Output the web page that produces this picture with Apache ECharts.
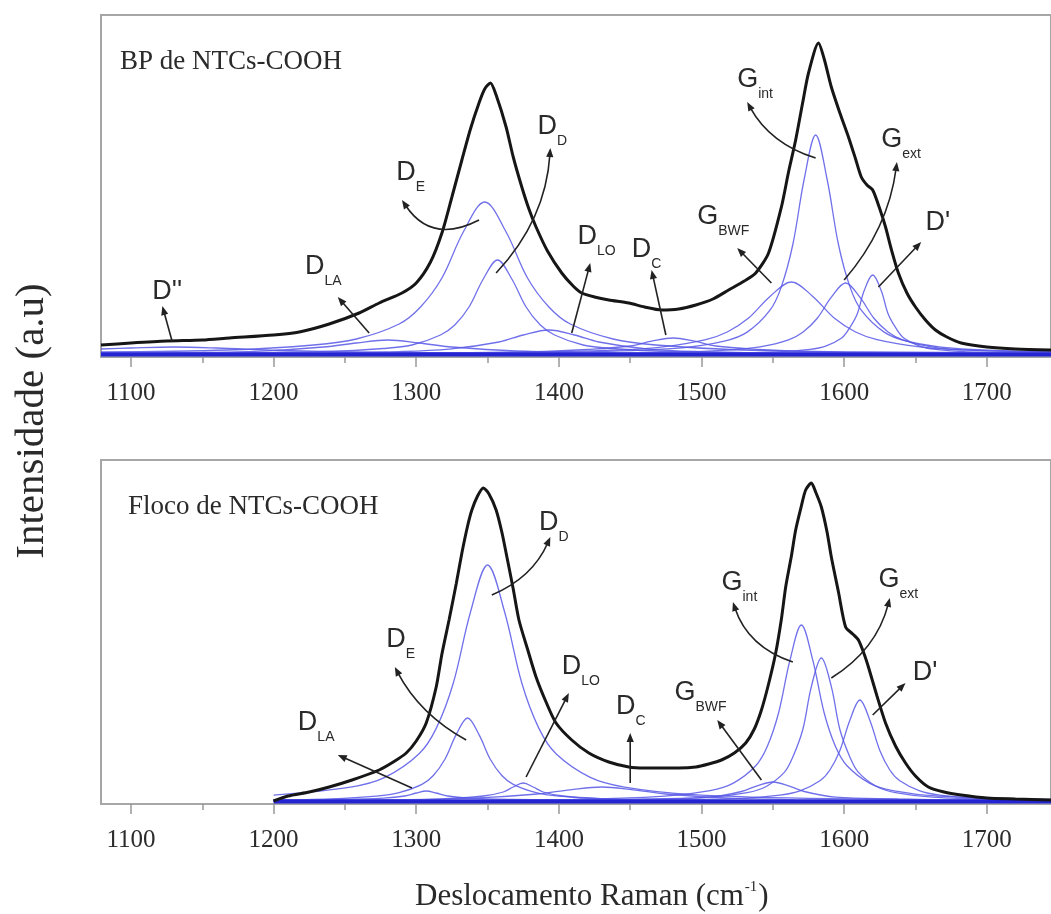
<!DOCTYPE html>
<html>
<head>
<meta charset="utf-8">
<script src="https://cdn.jsdelivr.net/npm/echarts@6.0.0/dist/echarts.min.js"></script>
<style>
  html, body { margin: 0; padding: 0; background: #fff; }
  #chart { width: 1051px; height: 914px; }
</style>
</head>
<body>
<div id="chart"></div>
<script>
// eixo x (cm-1)
const majorTicks = [1100, 1200, 1300, 1400, 1500, 1600, 1700];
const minorTicks = [1150, 1250, 1350, 1450, 1550, 1650];

// ---- painel superior: BP de NTCs-COOH (intensidade em u.a.) ----
const bpMeasured = [[1079,12],[1100,14],[1125,16],[1150,17],[1169,19],[1200,22],[1218,25],[1239,33],[1260,44],[1274,54],[1290,64],[1300,74],[1310,95],[1318,124],[1325,160],[1332,197],[1338,228],[1344,254],[1348,268],[1352,274],[1356,262],[1363,230],[1368,200],[1374,170],[1379,148],[1384,130],[1392,106],[1402,84],[1410,71],[1416,64],[1425,60],[1435,57],[1449,54],[1460,50],[1472,47],[1484,48],[1496,52],[1508,58],[1519,67],[1530,76],[1538,84],[1547,104],[1556,150],[1561,185],[1566,217],[1571,255],[1575,284],[1582,314],[1586,298],[1591,270],[1597,244],[1603,220],[1608,198],[1612,180],[1616,172],[1620,167],[1625,148],[1629,130],[1633,108],[1638,84],[1644,64],[1650,50],[1657,37],[1664,27],[1672,20],[1682,14],[1700,10],[1720,8],[1745,7]];
const bpDpp = [[1079,8],[1100,9],[1130,10],[1160,9],[1205,6.5],[1280,4.5],[1400,3.5],[1745,3]];
const bpDLA = [[1079,4],[1150,4.5],[1190,5.8],[1235,10],[1258,14],[1280,17],[1302,14],[1325,10],[1370,6],[1440,4],[1550,3.5],[1745,3.2]];
const bpDE = [[1079,5],[1168,7],[1228,12],[1258,18],[1288,33],[1303,50],[1318,79],[1333,125],[1348,155],[1363,125],[1378,79],[1393,50],[1408,33],[1438,18],[1468,12],[1528,7],[1618,5],[1745,4]];
const bpDD = [[1079,3.5],[1157,4],[1237,5.5],[1277,8.5],[1297,12],[1317,22],[1327,32],[1337,50],[1347,78],[1357,97],[1367,78],[1377,50],[1387,32],[1397,22],[1417,12],[1437,8.5],[1477,5.5],[1557,4],[1745,3.5]];
const bpDLO = [[1079,3.3],[1218,4],[1288,5.4],[1323,7.8],[1358,15],[1375,22],[1393,27],[1411,22],[1428,15],[1463,7.8],[1498,5.4],[1568,4],[1745,3.3]];
const bpDC = [[1079,3.2],[1330,4],[1390,5.6],[1420,7.5],[1450,11],[1465,15.8],[1480,19],[1495,15.8],[1510,11],[1540,7.5],[1570,5.6],[1630,4],[1745,3.3]];
const bpGBWF = [[1079,3.5],[1263,3.7],[1383,5],[1443,7.2],[1473,10.2],[1503,17.4],[1518,25],[1533,39],[1548,60.6],[1563,75],[1578,60.6],[1593,39],[1608,25],[1623,17.4],[1653,10.2],[1683,7.2],[1745,5]];
const bpGint = [[1079,3.5],[1330,3.9],[1420,5.2],[1484,8.9],[1516,15.9],[1532,24.9],[1548,46.8],[1556,70.4],[1564,112.5],[1572,178],[1580,222],[1588,178],[1596,112.5],[1604,70.4],[1612,46.8],[1628,24.9],[1644,15.9],[1676,8.9],[1745,5]];
const bpGext = [[1079,3.2],[1401,3.7],[1481,4.9],[1521,7.2],[1541,10.1],[1561,17.2],[1571,24.8],[1581,38.5],[1591,59.8],[1601,74],[1611,59.8],[1621,38.5],[1631,24.8],[1641,17.2],[1661,10.1],[1681,7.2],[1745,4.9]];
const bpDprime = [[1079,3.1],[1510,3.8],[1554,5.1],[1576,7.6],[1587,10.9],[1598,18.8],[1603,27.3],[1609,42.5],[1614,66.2],[1620,82],[1626,66.2],[1631,42.5],[1637,27.3],[1642,18.8],[1653,10.9],[1664,7.6],[1686,5.1],[1745,3.6]];
const bpBase = [[1079,2.5],[1745,2.5]];

// ---- painel inferior: Floco de NTCs-COOH ----
const flMeasured = [[1200,3],[1210,8],[1225,12],[1239,17],[1255,24],[1274,34],[1285,43],[1293,51],[1300,63],[1307,81],[1314,117],[1318,150],[1323,184],[1328,220],[1332,251],[1336,278],[1339,294],[1343,308],[1347,316],[1351,310],[1356,294],[1360,272],[1363,251],[1368,215],[1372,184],[1378,155],[1384,127],[1391,102],[1398,81],[1409,64],[1421,51],[1435,42],[1449,37],[1460,36],[1472,36],[1484,36],[1496,37],[1505,40],[1514,44],[1523,51],[1531,61],[1537,75],[1542,94],[1547,120],[1552,151],[1556,185],[1559,217],[1563,248],[1566,274],[1570,298],[1573,314],[1577,321],[1580,312],[1584,297],[1588,272],[1591,247],[1596,212],[1601,177],[1606,170],[1610,164],[1614,150],[1617,137],[1623,108],[1629,81],[1636,58],[1643,41],[1650,28],[1659,17],[1670,12],[1682,9],[1700,6],[1720,5],[1745,4]];
const flDLA = [[1200,3.9],[1247,4.5],[1277,5.8],[1292,8],[1300,11],[1307,13],[1314,11],[1322,8],[1337,5.8],[1367,4.5],[1420,3.6],[1745,3.1]];
const flDE = [[1200,4.1],[1240,5.2],[1272,7.9],[1288,11.3],[1304,19.6],[1312,28.5],[1320,44.5],[1328,69.4],[1336,86],[1344,69.4],[1352,44.5],[1360,28.5],[1368,19.6],[1384,11.3],[1400,7.9],[1432,5.2],[1496,3.8],[1745,3.2]];
const flDD = [[1200,8.9],[1254,16.9],[1278,26.6],[1302,50.2],[1314,75.6],[1326,121],[1338,191.8],[1350,239],[1362,191.8],[1374,121],[1386,75.6],[1398,50.2],[1422,26.6],[1446,16.9],[1494,9.4],[1590,5.3],[1745,3.9]];
const flDLO = [[1200,3.2],[1290,4],[1319,5.2],[1347,8],[1361,12],[1368,17],[1375,21],[1382,17],[1389,12],[1403,8],[1431,5.2],[1460,4],[1550,3.3],[1745,3.1]];
const flDC = [[1200,4.2],[1295,4.4],[1340,5.8],[1385,10],[1408,14.2],[1430,17],[1452,14.2],[1475,10],[1520,5.8],[1565,4.4],[1650,3.7],[1745,3.4]];
const flGBWF = [[1200,3.1],[1330,3.2],[1418,4],[1462,5.1],[1506,6.8],[1528,12.5],[1539,18.2],[1550,22],[1561,18.2],[1572,12.5],[1594,6.8],[1638,5.1],[1682,4],[1745,3.5]];
const flGint = [[1200,3.3],[1410,4.7],[1474,7.8],[1506,13.4],[1522,20.6],[1538,38.2],[1546,57.2],[1554,91],[1562,143.8],[1570,179],[1578,143.8],[1586,91],[1594,57.2],[1602,38.2],[1618,20.6],[1634,13.4],[1666,7.8],[1745,4.5]];
const flGext = [[1200,3.2],[1284,3.3],[1454,4.4],[1506,6.9],[1532,11.4],[1545,17.3],[1558,31.6],[1564,47],[1571,74.5],[1577,117.4],[1584,146],[1591,117.4],[1597,74.5],[1604,47],[1610,31.6],[1623,17.3],[1636,11.4],[1662,6.9],[1714,4.4],[1745,4]];
const flDprime = [[1200,3.1],[1311,3.2],[1471,4],[1527,5.7],[1555,8.9],[1569,13.1],[1583,23.2],[1590,34],[1597,53.5],[1604,83.8],[1611,104],[1618,83.8],[1625,53.5],[1632,34],[1639,23.2],[1653,13.1],[1667,8.9],[1695,5.7],[1745,4.2]];
const flBase = [[1200,2.5],[1745,2.5]];

// rótulos das bandas: texto, posição do texto e seta (cauda -> ponta)
const bpNotes = [
  { main: "D''", sub: '',    at: [1115, 75],  tail: [1129, 15],  head: [1122, 51],  curve: 0 },
  { main: 'D',   sub: 'LA',  at: [1222, 100], tail: [1267, 24],  head: [1245, 60],  curve: 0 },
  { main: 'D',   sub: 'E',   at: [1286, 194], tail: [1344, 137], head: [1290, 157], curve: 0.45 },
  { main: 'D',   sub: 'D',   at: [1385, 240], tail: [1356, 84],  head: [1394, 209], curve: -0.18 },
  { main: 'D',   sub: 'LO',  at: [1413, 130], tail: [1409, 24],  head: [1422, 94],  curve: 0 },
  { main: 'D',   sub: 'C',   at: [1451, 117], tail: [1475, 22],  head: [1465, 87],  curve: 0 },
  { main: 'G',   sub: 'BWF', at: [1497, 150], tail: [1549, 74],  head: [1525, 109], curve: 0 },
  { main: 'G',   sub: 'int', at: [1525, 287], tail: [1580, 199], head: [1532, 255], curve: 0.2 },
  { main: 'G',   sub: 'ext', at: [1626, 227], tail: [1600, 77],  head: [1637, 195], curve: -0.15 },
  { main: "D'",  sub: '',    at: [1657, 144], tail: [1624, 70],  head: [1654, 115], curve: 0 }
];
const flNotes = [
  { main: 'D',   sub: 'LA',  at: [1217, 91],  tail: [1297, 16],  head: [1245, 49],  curve: 0 },
  { main: 'D',   sub: 'E',   at: [1279, 174], tail: [1335, 64],  head: [1285, 137], curve: 0.15 },
  { main: 'D',   sub: 'D',   at: [1386, 291], tail: [1353, 209], head: [1394, 267], curve: -0.2 },
  { main: 'D',   sub: 'LO',  at: [1402, 147], tail: [1377, 27],  head: [1407, 111], curve: 0 },
  { main: 'D',   sub: 'C',   at: [1440, 107], tail: [1450, 21],  head: [1450, 71],  curve: 0 },
  { main: 'G',   sub: 'BWF', at: [1481, 121], tail: [1542, 24],  head: [1511, 84],  curve: 0 },
  { main: 'G',   sub: 'int', at: [1514, 231], tail: [1564, 142], head: [1522, 202], curve: 0.25 },
  { main: 'G',   sub: 'ext', at: [1624, 234], tail: [1591, 126], head: [1632, 206], curve: -0.2 },
  { main: "D'",  sub: '',    at: [1648, 141], tail: [1620, 89],  head: [1643, 121], curve: 0 }
];

const serif = '"Liberation Serif", "Times New Roman", serif';
const sans = '"Liberation Sans", Arial, sans-serif';
const blue = '#5757e6';
const grey = '#a6a6a6';
const ink = '#222';

const chart = echarts.init(document.getElementById('chart'));

function xAxes(g) {
  return [
    {
      type: 'value', gridIndex: g, position: 'bottom', min: 1079, max: 1745,
      axisLine: { show: true, lineStyle: { color: grey, width: 2 } },
      axisTick: { show: true, customValues: majorTicks, length: 10, lineStyle: { color: '#999', width: 1.5 } },
      axisLabel: { customValues: majorTicks, margin: 24, fontFamily: serif, fontSize: 25, color: '#2b2b2b',
                   formatter: v => String(v) },
      splitLine: { show: false }
    },
    {
      type: 'value', gridIndex: g, position: 'bottom', min: 1079, max: 1745,
      axisLine: { show: false },
      axisTick: { show: true, customValues: minorTicks, length: 6, lineStyle: { color: '#999', width: 1.5 } },
      axisLabel: { show: false },
      splitLine: { show: false }
    }
  ];
}

function comp(data, g) {
  return {
    type: 'line', data, xAxisIndex: g * 2, yAxisIndex: g,
    showSymbol: false, smooth: 0.35, silent: true, z: 2,
    lineStyle: { color: blue, width: 1.3, opacity: 0.85 }
  };
}

function measured(data, g) {
  return {
    type: 'line', data, xAxisIndex: g * 2, yAxisIndex: g,
    showSymbol: false, smooth: 0.25, silent: true, z: 5,
    lineStyle: { color: '#161616', width: 3 }
  };
}

function base(data, g) {
  return {
    type: 'line', data, xAxisIndex: g * 2, yAxisIndex: g,
    showSymbol: false, silent: true, z: 3,
    lineStyle: { color: '#2424d2', width: 4 }
  };
}

const topParts = [bpDpp, bpDLA, bpDE, bpDD, bpDLO, bpDC, bpGBWF, bpGint, bpGext, bpDprime];
const botParts = [flDLA, flDE, flDD, flDLO, flDC, flGBWF, flGint, flGext, flDprime];

chart.setOption({
  animation: false,
  backgroundColor: '#fff',
  grid: [
    { left: 101, top: 15, width: 952, height: 342, show: true, borderColor: grey, borderWidth: 2 },
    { left: 101, top: 460, width: 952, height: 344, show: true, borderColor: grey, borderWidth: 2 }
  ],
  xAxis: [...xAxes(0), ...xAxes(1)],
  yAxis: [
    { type: 'value', gridIndex: 0, min: 0, max: 342, show: false },
    { type: 'value', gridIndex: 1, min: 0, max: 344, show: false }
  ],
  series: [
    ...topParts.map(d => comp(d, 0)),
    base(bpBase, 0),
    measured(bpMeasured, 0),
    ...botParts.map(d => comp(d, 1)),
    base(flBase, 1),
    measured(flMeasured, 1)
  ]
});

// anotações (rótulos e setas) posicionadas a partir das coordenadas dos dados
const ctx = document.createElement('canvas').getContext('2d');
function textWidth(t, font) { ctx.font = font; return ctx.measureText(t).width; }

const mainSize = 27, subSize = 14;
const graphic = [];
function addNotes(notes, g) {
  const toPx = v => chart.convertToPixel({ xAxisIndex: g * 2, yAxisIndex: g }, v);
  notes.forEach(n => {
    const p = toPx(n.at);
    graphic.push({
      type: 'text', x: p[0], y: p[1] + 9.5, silent: true, z: 100,
      style: { text: n.main, font: mainSize + 'px ' + sans, fill: '#2a2a2a', verticalAlign: 'middle', align: 'left' }
    });
    if (n.sub) {
      const w = textWidth(n.main, mainSize + 'px ' + sans);
      graphic.push({
        type: 'text', x: p[0] + w, y: p[1] + 24, silent: true, z: 100,
        style: { text: n.sub, font: subSize + 'px ' + sans, fill: '#2a2a2a', verticalAlign: 'middle', align: 'left' }
      });
    }
    // seta curva (bezier quadrática) com ponta cheia
    const a = toPx(n.tail), b = toPx(n.head), c = n.curve;
    const cp = [(a[0] + b[0]) / 2 - (a[1] - b[1]) * c, (a[1] + b[1]) / 2 - (b[0] - a[0]) * c];
    const ang = Math.atan2(b[1] - cp[1], b[0] - cp[0]);
    const L = 9, W = 3.6;
    const ux = Math.cos(ang), uy = Math.sin(ang);
    const end = [b[0] - ux * L * 0.7, b[1] - uy * L * 0.7];
    graphic.push({
      type: 'bezierCurve', silent: true, z: 100,
      shape: { x1: a[0], y1: a[1], x2: end[0], y2: end[1], cpx1: cp[0], cpy1: cp[1] },
      style: { stroke: ink, lineWidth: 1.6, fill: null }
    });
    graphic.push({
      type: 'polygon', silent: true, z: 100,
      shape: { points: [
        [b[0], b[1]],
        [b[0] - ux * L - uy * W, b[1] - uy * L + ux * W],
        [b[0] - ux * L + uy * W, b[1] - uy * L - ux * W]
      ] },
      style: { fill: ink }
    });
  });
}
addNotes(bpNotes, 0);
addNotes(flNotes, 1);

graphic.push(
  { type: 'text', x: 120, y: 62, silent: true,
    style: { text: 'BP de NTCs-COOH', font: '27px ' + serif, fill: '#2a2a2a', verticalAlign: 'middle' } },
  { type: 'text', x: 128, y: 507, silent: true,
    style: { text: 'Floco de NTCs-COOH', font: '27px ' + serif, fill: '#2a2a2a', verticalAlign: 'middle' } },
  { type: 'text', x: 32, y: 421, rotation: Math.PI / 2, silent: true,
    style: { text: 'Intensidade (a.u)', font: '41px ' + serif, fill: '#2a2a2a', align: 'center', verticalAlign: 'middle' } }
);

// título do eixo x com expoente
const xFont = '31px ' + serif;
const xLeft = 415, xMid = 897;
const part1 = 'Deslocamento Raman (cm';
const w1 = textWidth(part1, xFont);
const w2 = textWidth('-1', '15px ' + serif);
graphic.push(
  { type: 'text', x: xLeft, y: xMid, silent: true,
    style: { text: part1, font: xFont, fill: '#2a2a2a', verticalAlign: 'middle' } },
  { type: 'text', x: xLeft + w1 + 1, y: xMid - 10, silent: true,
    style: { text: '-1', font: '15px ' + serif, fill: '#2a2a2a', verticalAlign: 'middle' } },
  { type: 'text', x: xLeft + w1 + w2 + 2, y: xMid, silent: true,
    style: { text: ')', font: xFont, fill: '#2a2a2a', verticalAlign: 'middle' } }
);

chart.setOption({ graphic });
</script>
</body>
</html>
